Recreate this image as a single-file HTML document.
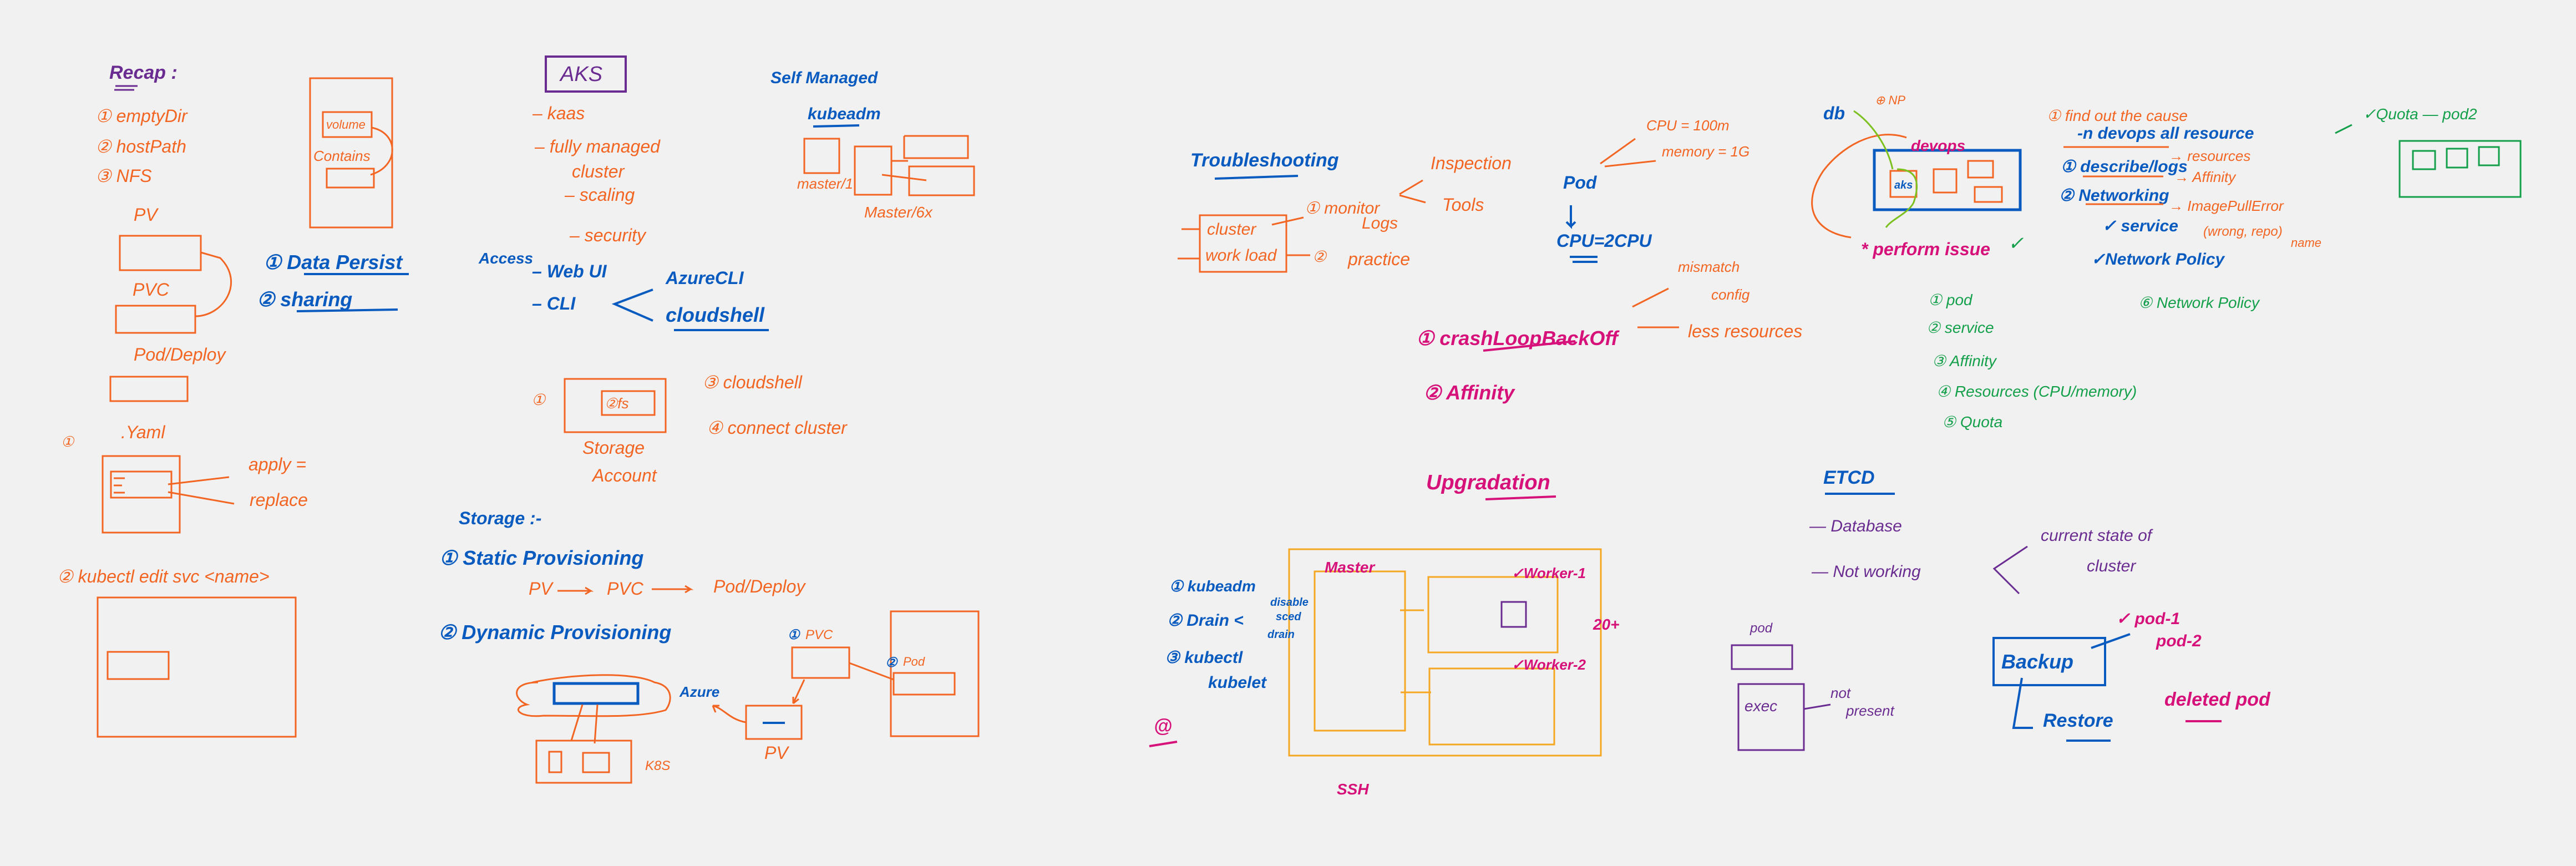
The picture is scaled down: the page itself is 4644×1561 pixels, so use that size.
<!DOCTYPE html>
<html><head><meta charset="utf-8"><style>
html,body{margin:0;padding:0;background:#f1f1f1;}
svg{display:block}
text{font-family:"Liberation Sans",sans-serif;font-style:italic;}
.o{fill:#f26522}.b{fill:#0a5bbf;font-weight:bold}.p{fill:#6a2c91}.m{fill:#d6127a;font-weight:bold}.g{fill:#14a04a}
.so{stroke:#f26522;fill:none;stroke-width:3}.sb{stroke:#0a5bbf;fill:none;stroke-width:4}.sp{stroke:#6a2c91;fill:none;stroke-width:3}
.sm{stroke:#d6127a;fill:none;stroke-width:4}.sg{stroke:#14a04a;fill:none;stroke-width:3}.sy{stroke:#f5a623;fill:none;stroke-width:3}
.sl{stroke:#7cc11f;fill:none;stroke-width:3}
</style></head><body>
<svg width="4644" height="1561" viewBox="0 0 4644 1561" font-size="32">
<!-- Recap -->
<text x="197" y="142" class="p" font-size="34" font-weight="bold">Recap :</text>
<path class="sp" d="M208 155h40M206 162h36"/>
<text x="172" y="220" class="o">① emptyDir</text>
<text x="172" y="275" class="o">② hostPath</text>
<text x="172" y="328" class="o">③ NFS</text>
<rect class="so" x="559" y="141" width="148" height="269"/>
<rect class="so" x="582" y="202" width="88" height="45"/>
<text x="588" y="232" class="o" font-size="22">volume</text>
<text x="565" y="290" class="o" font-size="26">Contains</text>
<rect class="so" x="589" y="304" width="85" height="34"/>
<path class="so" d="M670 230c50 10 50 70 -2 85"/>
<text x="241" y="398" class="o">PV</text>
<rect class="so" x="216" y="425" width="146" height="62"/>
<text x="239" y="533" class="o">PVC</text>
<rect class="so" x="209" y="551" width="143" height="49"/>
<path class="so" d="M352 570c50 0 90-60 45-105l-35-10"/>
<text x="241" y="650" class="o">Pod/Deploy</text>
<rect class="so" x="199" y="679" width="139" height="44"/>
<text x="475" y="485" class="b" font-size="36">① Data Persist</text>
<path class="sb" d="M548 494h189"/>
<text x="463" y="552" class="b" font-size="36">② sharing</text>
<path class="sb" d="M535 561l182-3"/>
<text x="110" y="805" class="o" font-size="26">①</text>
<text x="218" y="790" class="o">.Yaml</text>
<rect class="so" x="185" y="822" width="139" height="138"/>
<rect class="so" x="200" y="850" width="109" height="47"/>
<path class="so" d="M205 862h20M205 875h15M205 888h20M303 873l110-13M303 887l119 21"/>
<text x="448" y="848" class="o">apply =</text>
<text x="450" y="912" class="o">replace</text>
<text x="103" y="1050" class="o">② kubectl edit  svc  &lt;name&gt;</text>
<rect class="so" x="176" y="1077" width="357" height="251"/>
<rect class="so" x="194" y="1175" width="110" height="49"/>
<!-- AKS -->
<rect x="984" y="102" width="144" height="63" fill="none" stroke="#6a2c91" stroke-width="4"/>
<text x="1010" y="146" class="p" font-size="38">AKS</text>
<text x="960" y="215" class="o">– kaas</text>
<text x="964" y="275" class="o">– fully managed</text>
<text x="1031" y="320" class="o">cluster</text>
<text x="1018" y="362" class="o">– scaling</text>
<text x="1027" y="435" class="o">– security</text>
<text x="863" y="475" class="b" font-size="28">Access</text>
<text x="959" y="500" class="b">– Web UI</text>
<text x="959" y="558" class="b">– CLI</text>
<path class="sb" d="M1177 522l-69 26 69 30"/>
<text x="1200" y="512" class="b">AzureCLI</text>
<text x="1200" y="580" class="b" font-size="36">cloudshell</text>
<path class="sb" d="M1215 595h171"/>
<text x="1389" y="150" class="b" font-size="30">Self Managed</text>
<text x="1456" y="215" class="b" font-size="30">kubeadm</text>
<path class="sb" d="M1466 228l83-2"/>
<rect class="so" x="1450" y="250" width="63" height="62"/>
<rect class="so" x="1541" y="264" width="66" height="87"/>
<rect class="so" x="1639" y="300" width="117" height="52"/>
<path class="so" d="M1630 245v40h115v-40h-115M1607 290h30M1590 315l80 10"/>
<text x="1437" y="340" class="o" font-size="26">master/1</text>
<text x="1558" y="392" class="o" font-size="28">Master/6x</text>
<text x="958" y="730" class="o" font-size="28">①</text>
<rect class="so" x="1018" y="683" width="182" height="96"/>
<rect class="so" x="1085" y="705" width="95" height="43"/>
<text x="1090" y="736" class="o" font-size="26">②fs</text>
<text x="1050" y="818" class="o">Storage</text>
<text x="1068" y="868" class="o">Account</text>
<text x="1266" y="700" class="o">③ cloudshell</text>
<text x="1274" y="782" class="o">④ connect cluster</text>
<text x="827" y="945" class="b">Storage :-</text>
<text x="792" y="1018" class="b" font-size="36">① Static Provisioning</text>
<text x="953" y="1072" class="o">PV</text><path class="so" d="M1005 1065h60l-10-6M1065 1065l-10 6"/>
<text x="1094" y="1072" class="o">PVC</text><path class="so" d="M1175 1062h70l-10-6M1245 1062l-10 6"/>
<text x="1286" y="1068" class="o">Pod/Deploy</text>
<text x="790" y="1152" class="b" font-size="36">② Dynamic Provisioning</text>
<path class="so" d="M970 1230c-50 0-45 30-20 40-30 5-15 25 30 20 90 0 170 5 220 -10 15-20 10-45-20-50-40-20-150-15-220 0z"/>
<rect x="999" y="1232" width="151" height="36" fill="none" stroke="#0a5bbf" stroke-width="5"/>
<path class="so" d="M1050 1270l-20 65M1077 1270l-5 70"/>
<rect class="so" x="967" y="1335" width="171" height="76"/>
<rect class="so" x="990" y="1355" width="22" height="37"/>
<rect class="so" x="1051" y="1357" width="47" height="35"/>
<text x="1163" y="1388" class="o" font-size="24">K8S</text>
<text x="1225" y="1256" class="b" font-size="26">Azure</text>
<rect class="so" x="1345" y="1272" width="100" height="60"/>
<path class="sb" d="M1375 1303h40" stroke-width="3"/>
<text x="1378" y="1368" class="o">PV</text>
<path class="so" d="M1345 1302c-30-5-40-25-60-30l12 0M1285 1272l5 12"/>
<text x="1420" y="1152" class="b" font-size="24">①</text><text x="1452" y="1152" class="o" font-size="24">PVC</text>
<rect class="so" x="1428" y="1167" width="103" height="55"/>
<path class="so" d="M1450 1225l-20 43M1430 1268l0-12M1430 1268l10-8M1531 1195l80 30"/>
<rect class="so" x="1606" y="1102" width="158" height="225"/>
<rect class="so" x="1611" y="1213" width="110" height="39"/>
<text x="1596" y="1202" class="b" font-size="24">②</text><text x="1628" y="1200" class="o" font-size="22">Pod</text>
<!-- troubleshooting -->
<text x="2146" y="300" class="b" font-size="34">Troubleshooting</text>
<path class="sb" d="M2190 322l150-5"/>
<rect class="so" x="2163" y="388" width="156" height="102"/>
<path class="so" d="M2130 413h33M2123 466h40M2293 405l57-13M2319 460h43M2523 350l42-25M2523 352l47 13"/>
<text x="2176" y="423" class="o" font-size="30">cluster</text>
<text x="2173" y="470" class="o" font-size="30">work load</text>
<text x="2352" y="385" class="o" font-size="30">① monitor</text>
<text x="2455" y="412" class="o" font-size="30">Logs</text>
<text x="2579" y="305" class="o">Inspection</text>
<text x="2600" y="380" class="o">Tools</text>
<text x="2366" y="472" class="o" font-size="28">②</text>
<text x="2430" y="478" class="o">practice</text>
<text x="2818" y="340" class="b">Pod</text>
<path class="sb" d="M2832 370v38l-8-8M2832 408l8-8" stroke-width="3"/>
<text x="2806" y="445" class="b">CPU=2CPU</text>
<path class="sb" d="M2830 463h50M2835 472h45" stroke-width="3"/>
<path class="so" d="M2885 295l63-45M2893 300l92-10"/>
<text x="2968" y="235" class="o" font-size="26">CPU = 100m</text>
<text x="2996" y="282" class="o" font-size="26">memory = 1G</text>
<text x="2553" y="622" class="m" font-size="36">①  crashLoopBackOff</text>
<path class="sm" d="M2674 632l166-17"/>
<path class="so" d="M2943 553l65-33M2952 590h75"/>
<text x="3025" y="490" class="o" font-size="26">mismatch</text>
<text x="3085" y="540" class="o" font-size="26">config</text>
<text x="3043" y="608" class="o">less resources</text>
<text x="2566" y="720" class="m" font-size="36">②  Affinity</text>
<text x="2571" y="882" class="m" font-size="38">Upgradation</text>
<path class="sm" d="M2678 900l127-5"/>
<rect class="sy" x="2324" y="990" width="562" height="372"/>
<rect class="sy" x="2370" y="1030" width="163" height="287"/>
<rect class="sy" x="2575" y="1040" width="233" height="136"/>
<rect class="sy" x="2577" y="1205" width="225" height="137"/>
<rect x="2707" y="1085" width="44" height="45" fill="none" stroke="#6a2c91" stroke-width="3"/>
<path class="sy" d="M2524 1100h43M2525 1248h55"/>
<text x="2388" y="1032" class="m" font-size="28">Master</text>
<text x="2725" y="1042" class="m" font-size="26">✓Worker-1</text>
<text x="2725" y="1207" class="m" font-size="26">✓Worker-2</text>
<text x="2872" y="1135" class="m" font-size="28">20+</text>
<text x="2108" y="1066" class="b" font-size="28" font-weight="normal">① kubeadm</text>
<text x="2104" y="1128" class="b" font-size="30" font-weight="normal">② Drain &lt;</text>
<text x="2290" y="1092" class="b" font-size="20" font-weight="normal">disable</text>
<text x="2300" y="1118" class="b" font-size="20" font-weight="normal">sced</text>
<text x="2285" y="1150" class="b" font-size="20" font-weight="normal">drain</text>
<text x="2100" y="1195" class="b" font-size="30" font-weight="normal">③ kubectl</text>
<text x="2178" y="1240" class="b" font-size="30" font-weight="normal">kubelet</text>
<text x="2080" y="1320" class="m" font-size="34">@</text>
<path class="sm" d="M2072 1345l50-8"/>
<text x="2410" y="1432" class="m" font-size="28">SSH</text>
<!-- devops area -->
<text x="3287" y="215" class="b">db</text>
<text x="3380" y="188" class="o" font-size="22">⊕ NP</text>
<rect x="3379" y="271" width="263" height="107" fill="none" stroke="#0a5bbf" stroke-width="5"/>
<rect class="so" x="3408" y="308" width="47" height="47"/>
<text x="3415" y="340" class="b" font-size="20">aks</text>
<rect class="so" x="3486" y="305" width="41" height="42"/>
<rect class="so" x="3548" y="290" width="45" height="30"/>
<rect class="so" x="3560" y="337" width="49" height="27"/>
<text x="3445" y="272" class="m" font-size="28">devops</text>
<path class="so" d="M3437 248c-60-20-120 20-150 60-40 60-20 110 50 120"/>
<path class="sl" d="M3342 200c30 20 60 60 70 105M3420 305c40 0 40 30 30 60-10 20-40 30-50 45"/>
<text x="3355" y="460" class="m" font-size="32">* perform issue</text>
<text x="3620" y="450" class="g" font-size="34">✓</text>
<text x="3690" y="218" class="o" font-size="28">①  find out the cause</text>
<text x="3745" y="250" class="b" font-size="30">-n devops all resource</text>
<path class="so" d="M3720 265h190"/>
<text x="3715" y="310" class="b" font-size="30">① describe/logs</text>
<path class="so" d="M3755 318h145"/>
<text x="3712" y="362" class="b" font-size="30">② Networking</text>
<path class="so" d="M3760 368h140"/>
<text x="3790" y="417" class="b" font-size="30">✓ service</text>
<text x="3770" y="477" class="b" font-size="30">✓Network Policy</text>
<text x="3910" y="290" class="o" font-size="26">→ resources</text>
<text x="3920" y="328" class="o" font-size="26">→ Affinity</text>
<text x="3910" y="380" class="o" font-size="26">→ ImagePullError</text>
<text x="3972" y="425" class="o" font-size="24">(wrong, repo)</text>
<text x="4130" y="445" class="o" font-size="22">name</text>
<path class="sg" d="M4210 240l30-15"/>
<text x="4260" y="215" class="g" font-size="28">✓Quota — pod2</text>
<rect class="sg" x="4326" y="254" width="218" height="101"/>
<rect class="sg" x="4350" y="272" width="40" height="33"/>
<rect class="sg" x="4411" y="268" width="37" height="34"/>
<rect class="sg" x="4469" y="265" width="36" height="33"/>
<text x="3476" y="550" class="g" font-size="28">① pod</text>
<text x="3473" y="600" class="g" font-size="28">② service</text>
<text x="3483" y="660" class="g" font-size="28">③ Affinity</text>
<text x="3491" y="715" class="g" font-size="28">④ Resources (CPU/memory)</text>
<text x="3501" y="770" class="g" font-size="28">⑤ Quota</text>
<text x="3855" y="555" class="g" font-size="28">⑥ Network Policy</text>
<!-- ETCD -->
<text x="3287" y="872" class="b" font-size="34" font-weight="normal">ETCD</text>
<path class="sb" d="M3290 890h126" stroke-width="3"/>
<text x="3262" y="958" class="p" font-size="30">—  Database</text>
<text x="3266" y="1040" class="p" font-size="30">—  Not working</text>
<path class="sp" d="M3655 985l-60 40 45 45"/>
<text x="3679" y="975" class="p" font-size="30">current state of</text>
<text x="3762" y="1030" class="p" font-size="30">cluster</text>
<text x="3155" y="1140" class="p" font-size="24">pod</text>
<rect class="sp" x="3122" y="1163" width="109" height="43"/>
<rect class="sp" x="3134" y="1233" width="118" height="119"/>
<text x="3145" y="1282" class="p" font-size="28">exec</text>
<path class="sp" d="M3252 1278l48-8"/>
<text x="3300" y="1258" class="p" font-size="26">not</text>
<text x="3328" y="1290" class="p" font-size="26">present</text>
<rect x="3594" y="1150" width="201" height="85" fill="none" stroke="#0a5bbf" stroke-width="4"/>
<text x="3608" y="1205" class="b" font-size="36" font-weight="normal">Backup</text>
<path class="sb" d="M3645 1222l-15 90h35M3770 1168l70-25" stroke-width="3"/>
<text x="3683" y="1310" class="b" font-size="34">Restore</text>
<path class="sb" d="M3725 1335h80"/>
<text x="3815" y="1125" class="m" font-size="30">✓ pod-1</text>
<text x="3887" y="1165" class="m" font-size="30">pod-2</text>
<text x="3902" y="1272" class="m" font-size="34">deleted pod</text>
<path class="sm" d="M3940 1300h65"/>
</svg>
</body></html>
